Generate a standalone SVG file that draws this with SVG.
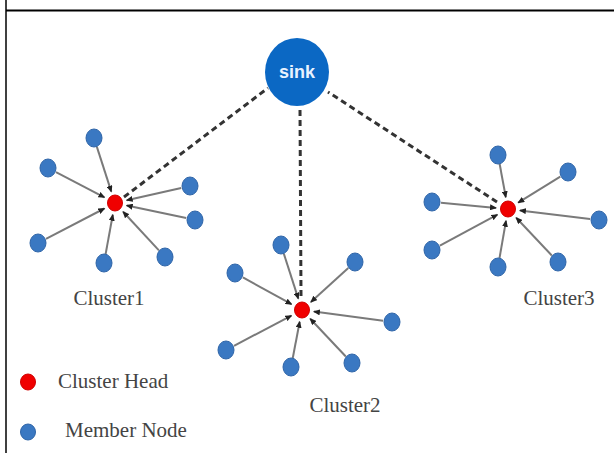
<svg xmlns="http://www.w3.org/2000/svg" width="614" height="453" viewBox="0 0 614 453">
<style>
.m{fill:#3a78c2;stroke:#2f65a8;stroke-width:1}
.h{fill:#f00000;stroke:#d00000;stroke-width:1}
.e{stroke:#7a7a7a;stroke-width:2;fill:none;marker-end:url(#ah)}
.d{stroke:#333;stroke-width:3;fill:none;stroke-dasharray:6 4}
.t{font-family:"Liberation Serif","Times New Roman",serif;font-size:21px;fill:#444}
</style>
<defs>
<marker id="ah" markerUnits="userSpaceOnUse" markerWidth="7" markerHeight="6" refX="6" refY="3" orient="auto">
<path d="M0,0 L7,3 L0,6 z" fill="#222"/>
</marker>
</defs>
<rect width="614" height="453" fill="#fff"/>
<line x1="6" y1="0" x2="6" y2="453" stroke="#000" stroke-width="1.5"/>
<line x1="6" y1="10.5" x2="614" y2="10.5" stroke="#000" stroke-width="2"/>

<g id="connectors">
<line class="d" x1="124" y1="197" x2="268" y2="88"/>
<line class="d" x1="301" y1="296" x2="300" y2="108"/>
<line class="d" x1="497" y1="202" x2="328" y2="92"/>
<line class="e" x1="96.8" y1="146.6" x2="111.3" y2="191.6"/>
<line class="e" x1="56" y1="172.2" x2="104.4" y2="197.4"/>
<line class="e" x1="181.2" y1="188" x2="126.7" y2="200.3"/>
<line class="e" x1="186.2" y1="218.1" x2="126.7" y2="205.5"/>
<line class="e" x1="46" y1="238.9" x2="104.4" y2="208.5"/>
<line class="e" x1="105.6" y1="254.1" x2="112.8" y2="214.8"/>
<line class="e" x1="158.9" y1="250.4" x2="123.1" y2="211.8"/>
<line class="e" x1="283.8" y1="253.6" x2="298.3" y2="298.6"/>
<line class="e" x1="242.9" y1="277.4" x2="291.5" y2="304.2"/>
<line class="e" x1="348.3" y1="268" x2="310.9" y2="302"/>
<line class="e" x1="383.1" y1="320.8" x2="313.9" y2="311.6"/>
<line class="e" x1="234" y1="345.8" x2="291.4" y2="315.6"/>
<line class="e" x1="292.7" y1="358.2" x2="299.7" y2="321.8"/>
<line class="e" x1="345.8" y1="356.5" x2="310.2" y2="318.7"/>
<line class="e" x1="499.6" y1="163.8" x2="505.8" y2="197.2"/>
<line class="e" x1="560.3" y1="176.7" x2="518.2" y2="202.7"/>
<line class="e" x1="441" y1="202.8" x2="496" y2="207.9"/>
<line class="e" x1="590.1" y1="218.9" x2="519.9" y2="210.4"/>
<line class="e" x1="439.9" y1="245.7" x2="497.4" y2="214.7"/>
<line class="e" x1="499.5" y1="258.1" x2="506" y2="220.8"/>
<line class="e" x1="551.8" y1="255.5" x2="516.2" y2="217.7"/>
</g>

<g id="sink">
<ellipse cx="297" cy="72" rx="32" ry="34" fill="#0b68c4"/>
<text x="297" y="78" text-anchor="middle" font-family="'Liberation Sans',Arial,sans-serif" font-weight="bold" font-size="18" fill="#e8f2ff">sink</text>
</g>

<g id="cluster1">
<ellipse class="h" cx="115" cy="203" rx="7.5" ry="8"/>
<ellipse class="m" cx="94" cy="138" rx="8" ry="9"/>
<ellipse class="m" cx="48" cy="168" rx="8" ry="9"/>
<ellipse class="m" cx="190" cy="186" rx="8" ry="9"/>
<ellipse class="m" cx="195" cy="220" rx="8" ry="9"/>
<ellipse class="m" cx="38" cy="243" rx="8" ry="9"/>
<ellipse class="m" cx="104" cy="263" rx="8" ry="9"/>
<ellipse class="m" cx="165" cy="257" rx="8" ry="9"/>
<text class="t" x="109" y="305" text-anchor="middle">Cluster1</text>
</g>

<g id="cluster2">
<ellipse class="h" cx="302" cy="310" rx="7.5" ry="8"/>
<ellipse class="m" cx="281" cy="245" rx="8" ry="9"/>
<ellipse class="m" cx="235" cy="273" rx="8" ry="9"/>
<ellipse class="m" cx="355" cy="262" rx="8" ry="9"/>
<ellipse class="m" cx="392" cy="322" rx="8" ry="9"/>
<ellipse class="m" cx="226" cy="350" rx="8" ry="9"/>
<ellipse class="m" cx="291" cy="367" rx="8" ry="9"/>
<ellipse class="m" cx="352" cy="363" rx="8" ry="9"/>
<text class="t" x="345" y="412" text-anchor="middle">Cluster2</text>
</g>

<g id="cluster3">
<ellipse class="h" cx="508" cy="209" rx="7.5" ry="8"/>
<ellipse class="m" cx="498" cy="155" rx="8" ry="9"/>
<ellipse class="m" cx="568" cy="172" rx="8" ry="9"/>
<ellipse class="m" cx="432" cy="202" rx="8" ry="9"/>
<ellipse class="m" cx="599" cy="220" rx="8" ry="9"/>
<ellipse class="m" cx="432" cy="250" rx="8" ry="9"/>
<ellipse class="m" cx="498" cy="267" rx="8" ry="9"/>
<ellipse class="m" cx="558" cy="262" rx="8" ry="9"/>
<text class="t" x="559" y="305" text-anchor="middle">Cluster3</text>
</g>

<g id="legend">
<ellipse class="h" cx="28" cy="382" rx="7.5" ry="8"/>
<text class="t" x="58" y="388">Cluster Head</text>
<ellipse class="m" cx="28" cy="432" rx="7.5" ry="8"/>
<text class="t" x="65" y="437">Member Node</text>
</g>
</svg>
